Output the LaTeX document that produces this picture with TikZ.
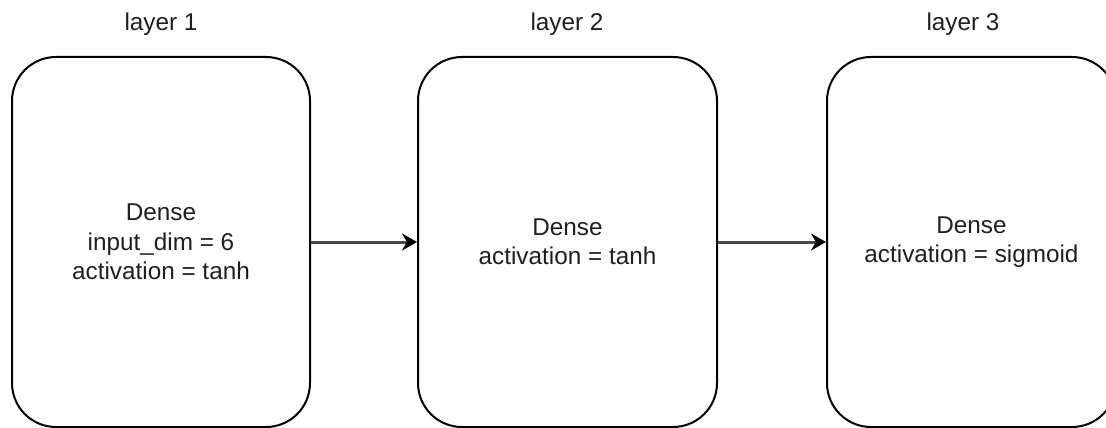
\documentclass[tikz,border=0pt]{standalone}
\usepackage{fontspec}
\setmainfont{Liberation Sans}
\usetikzlibrary{arrows.meta}
\begin{document}
\begin{tikzpicture}[x=1pt,y=-1pt,
  layerbox/.style={draw=black, line width=2pt, rounded corners=44pt,
    minimum height=370pt, inner sep=0pt, align=center,
    font=\fontsize{24.3}{29.5}\selectfont, text=black!88},
  title/.style={anchor=base, font=\fontsize{24.3}{29.5}\selectfont, text=black!88},
  conn/.style={draw=black!72, line width=3pt,
    -{Stealth[length=15pt,width=17pt,inset=5pt,fill=black,color=black]}}]
\useasboundingbox (0,0) rectangle (1106,428);
\node[layerbox, minimum width=298pt] (b1) at (161,242) {Dense\\input\_dim = 6\\activation = tanh};
\node[layerbox, minimum width=299pt] (b2) at (567.5,242) {Dense\\activation = tanh};
\node[layerbox, minimum width=289pt] (b3) at (971.5,242) {Dense\\activation = sigmoid};
\node[title] (t1) at (161,31) {layer 1};
\node[title] (t2) at (567,31) {layer 2};
\node[title] (t3) at (963,31) {layer 3};
\draw[conn] (b1.east) -- (b2.west);
\draw[conn] (b2.east) -- (b3.west);
\end{tikzpicture}
\end{document}
